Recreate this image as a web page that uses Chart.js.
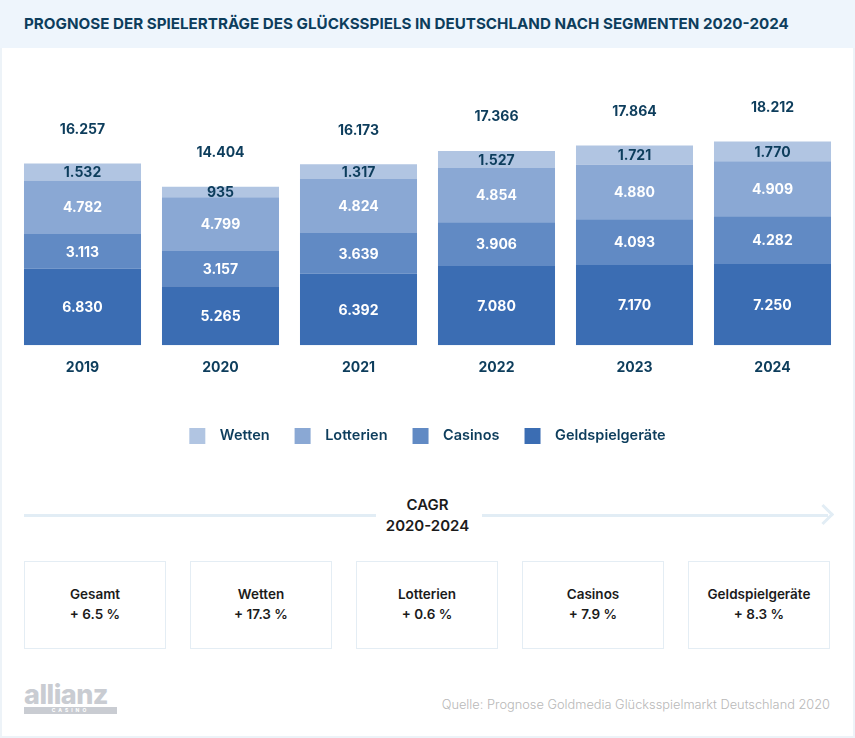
<!DOCTYPE html>
<html lang="de">
<head>
<meta charset="utf-8">
<script src="https://cdn.jsdelivr.net/npm/chart.js@4"></script>
<style>
  html, body { margin: 0; padding: 0; background: #fff; }
  body { width: 855px; height: 738px; position: relative; overflow: hidden; font-family: 'Inter', sans-serif; }
  .frame { position: absolute; left: 0; top: 0; width: 851px; height: 734px; border: 2px solid #edf3f8; }
  .title { position: absolute; left: 0; top: 0; width: 855px; height: 48px; background: #eef5fc; }
  .title span { position: absolute; left: 24px; top: 14px; font-weight: 700; font-size: 15.2px; color: #0d3d5c; }
  #wrap { position: absolute; left: 0; top: 60px; width: 855px; height: 394px; }
  .line { position: absolute; top: 514px; height: 3px; background: #e2edf5; }
  .arrow { position: absolute; left: 816px; top: 507px; width: 12px; height: 12px; border-top: 3px solid #e2edf5; border-right: 3px solid #e2edf5; transform: rotate(45deg); }
  .cagr { position: absolute; left: 0; width: 855px; text-align: center; font-weight: 600; font-size: 15px; color: #1b1b1b; }
  .box { position: absolute; top: 561px; width: 140px; height: 86px; border: 1px solid #e4edf4; text-align: center; font-weight: 600; font-size: 13.5px; color: #1b1b1b; }
  .box .l { position: absolute; left: 0; right: 0; top: 24px; }
  .box .v { position: absolute; left: 0; right: 0; top: 44px; }
  .logo { position: absolute; left: 24px; top: 681px; color: #c9ccd2; font-weight: 800; font-size: 27px; letter-spacing: -0.5px; line-height: 1; }
  .logo .bar { position: absolute; left: 0; top: 26px; width: 93px; height: 7px; background: #c9ccd2; color: #fff; font-size: 5px; letter-spacing: 3px; text-align: center; line-height: 7px; font-weight: 700; }
  .src { position: absolute; right: 25px; top: 697px; font-size: 12.8px; color: #b8b8b8; font-weight: 300; }
</style>
</head>
<body>
<div class="frame"></div>
<div class="title"><span>PROGNOSE DER SPIELERTRÄGE DES GLÜCKSSPIELS IN DEUTSCHLAND NACH SEGMENTEN 2020-2024</span></div>
<div id="wrap"><canvas id="bars"></canvas></div>

<div class="line" style="left:24px;width:352px"></div>
<div class="line" style="left:482px;width:346px"></div>
<div class="arrow"></div>
<div class="cagr" style="top:495px">CAGR</div>
<div class="cagr" style="top:516px">2020-2024</div>
<div id="boxes"></div>

<div class="logo">allianz<div class="bar">CASINO</div></div>
<div class="src">Quelle: Prognose Goldmedia Glücksspielmarkt Deutschland 2020</div>

<script>
const years = ['2019', '2020', '2021', '2022', '2023', '2024'];
const geldspielgeraete = [6830, 5265, 6392, 7080, 7170, 7250];
const casinos = [3113, 3157, 3639, 3906, 4093, 4282];
const lotterien = [4782, 4799, 4824, 4854, 4880, 4909];
const wetten = [1532, 935, 1317, 1527, 1721, 1770];
// totals as printed in the source (not always the exact sum)
const totals = [16257, 14404, 16173, 17366, 17864, 18212];

const cagrLabels = ['Gesamt', 'Wetten', 'Lotterien', 'Casinos', 'Geldspielgeräte'];
const cagrValues = ['+ 6.5 %', '+ 17.3 %', '+ 0.6 %', '+ 7.9 %', '+ 8.3 %'];

const navy = '#0d3d5c';

// cagr boxes
const boxes = document.getElementById('boxes');
cagrLabels.forEach((l, i) => {
    const d = document.createElement('div');
    d.className = 'box';
    d.style.left = (24 + i * 166) + 'px';
    d.innerHTML = '<div class="l">' + l + '</div><div class="v">' + cagrValues[i] + '</div>';
    boxes.appendChild(d);
});

function fmt(n) {
    return String(n).replace(/\B(?=(\d{3})+(?!\d))/g, '.');
}

// labels in segments + totals on top
const valueLabels = {
    id: 'valueLabels',
    afterDatasetsDraw(chart) {
        const ctx = chart.ctx;
        ctx.save();
        ctx.font = '700 14px Inter';
        ctx.textAlign = 'center';
        ctx.textBaseline = 'middle';
        chart.data.datasets.forEach((ds, di) => {
            const meta = chart.getDatasetMeta(di);
            meta.data.forEach((bar, i) => {
                ctx.fillStyle = di === 3 ? navy : '#ffffff';
                ctx.fillText(fmt(ds.data[i]), bar.x, (bar.y + bar.base) / 2 + 1);
            });
        });
        const top = chart.getDatasetMeta(3);
        top.data.forEach((bar, i) => {
            ctx.fillStyle = navy;
            ctx.fillText(fmt(totals[i]), bar.x, bar.y - 34);
        });
        ctx.restore();
    }
};

document.addEventListener('DOMContentLoaded', () => {
    const ctx = document.getElementById('bars').getContext('2d');

    const data = {
        labels: years,
        datasets: [
            { label: 'Geldspielgeräte', data: geldspielgeraete, backgroundColor: '#3b6db3' },
            { label: 'Casinos', data: casinos, backgroundColor: '#618ac4' },
            { label: 'Lotterien', data: lotterien, backgroundColor: '#8aa8d4' },
            { label: 'Wetten', data: wetten, backgroundColor: '#b1c5e2' }
        ]
    };

    new Chart(ctx, {
        type: 'bar',
        data: data,
        options: {
            responsive: true,
            maintainAspectRatio: false,
            animation: false,
            barPercentage: 0.848,
            categoryPercentage: 1,
            layout: { padding: { left: 13.5, right: 13.5, top: 0, bottom: 0 } },
            scales: {
                x: {
                    stacked: true,
                    grid: { display: false },
                    border: { display: false },
                    ticks: { color: navy, font: { family: 'Inter', size: 14, weight: '700' }, padding: 6 },
                    afterFit(scale) { scale.height += 21; }
                },
                y: {
                    stacked: true,
                    display: false,
                    min: 0,
                    max: 25500
                }
            },
            plugins: {
                legend: {
                    position: 'bottom',
                    reverse: true,
                    labels: {
                        boxWidth: 16,
                        boxHeight: 16,
                        padding: 25,
                        color: navy,
                        font: { family: 'Inter', size: 14.5, weight: '600' },
                        generateLabels(chart) {
                            const items = Chart.defaults.plugins.legend.labels.generateLabels(chart);
                            items.forEach(it => { it.text = '  ' + it.text; it.lineWidth = 0; });
                            return items;
                        }
                    }
                },
                tooltip: { enabled: false }
            }
        },
        plugins: [valueLabels]
    });
});
</script>
</body>
</html>
